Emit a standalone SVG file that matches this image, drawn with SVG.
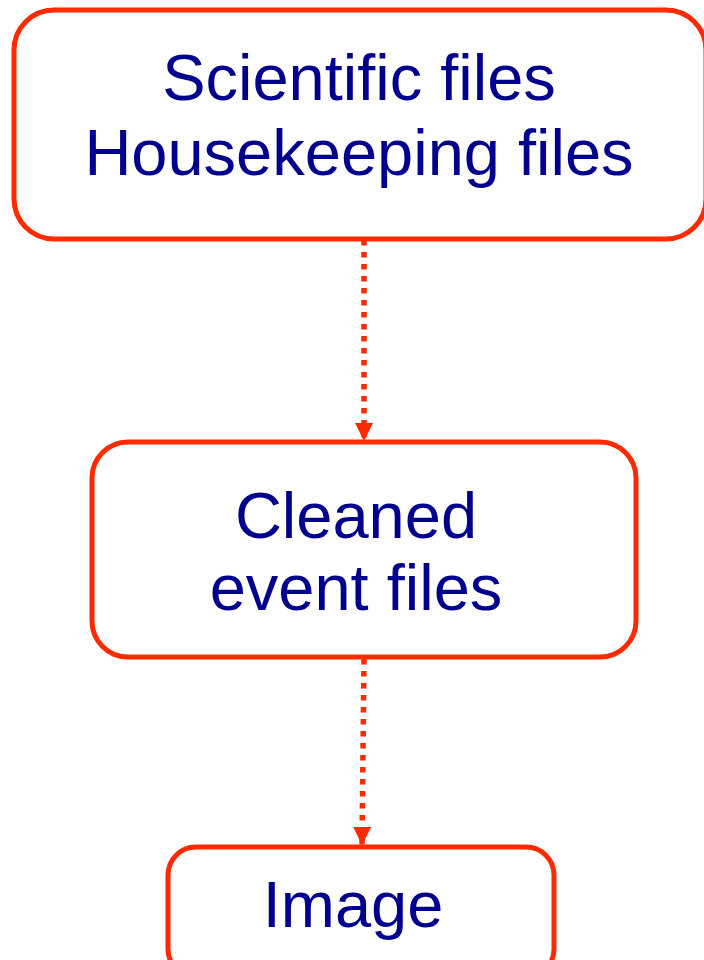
<svg xmlns="http://www.w3.org/2000/svg" width="704" height="960" viewBox="0 0 704 960">
<defs>
<style>
.box{fill:#fff;stroke:#FF2A00;stroke-width:5}
.lbl{font-family:"Liberation Sans",Arial,Helvetica,sans-serif;font-size:65px;fill:#00008F;text-anchor:middle}
.edge{stroke:#FF2A00;stroke-width:5.5;stroke-dasharray:5.5 6.5;fill:none}
</style>
<marker id="ah" viewBox="0 0 18 18" refX="18" refY="9" markerWidth="18" markerHeight="18" markerUnits="userSpaceOnUse" orient="auto">
<path d="M0,0 L18,9 L0,18 Z" fill="#FF2A00"/>
</marker>
</defs>
<rect width="704" height="960" fill="#fff"/>
<g id="connectors">
<line class="edge" x1="364" y1="240" x2="364" y2="441" marker-end="url(#ah)"/>
<line class="edge" x1="364" y1="659" x2="362" y2="845" marker-end="url(#ah)"/>
</g>
<g id="node-scientific">
<rect class="box" x="14" y="10" width="692" height="229" rx="40"/>
<text class="lbl" x="359" y="100">Scientific files</text>
<text class="lbl" x="359" y="175">Housekeeping files</text>
</g>
<g id="node-cleaned">
<rect class="box" x="92" y="442" width="544" height="215" rx="36"/>
<text class="lbl" x="356" y="538">Cleaned</text>
<text class="lbl" x="356" y="610">event files</text>
</g>
<g id="node-image">
<rect class="box" x="168" y="847" width="386" height="130" rx="28"/>
<text class="lbl" x="353" y="927">Image</text>
</g>
</svg>
